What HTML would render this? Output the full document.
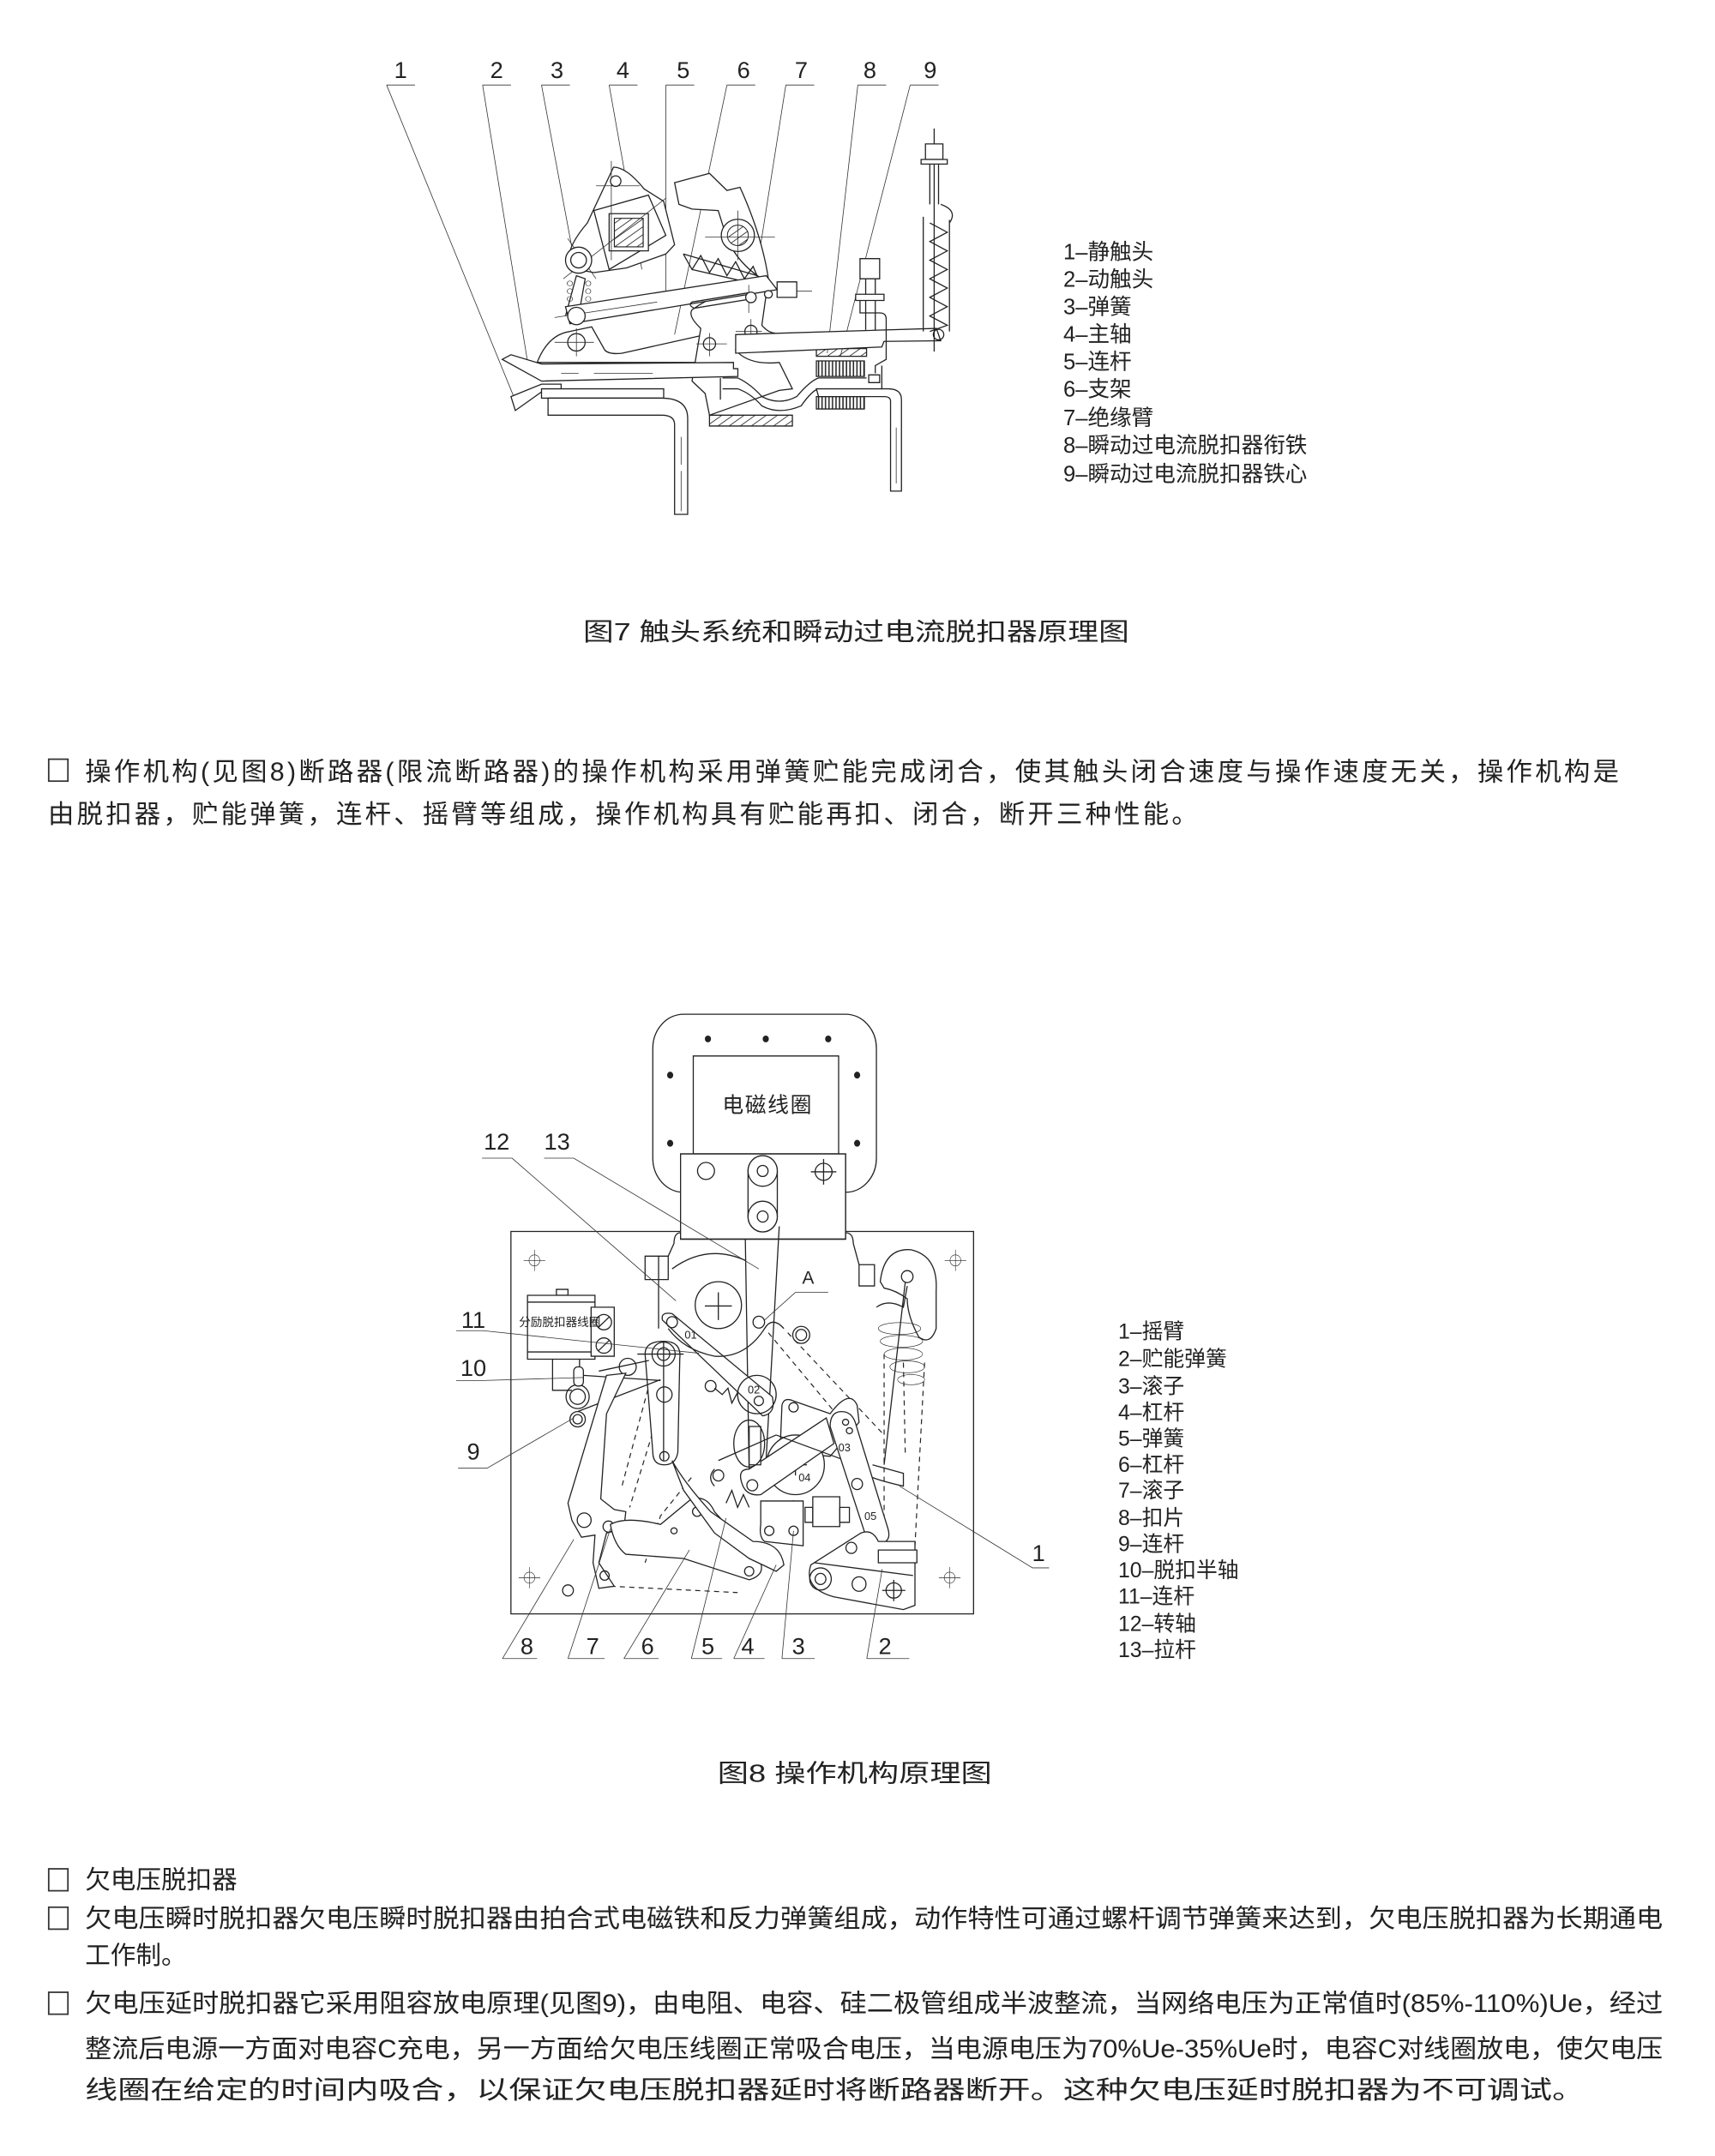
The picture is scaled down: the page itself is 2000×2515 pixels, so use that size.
<!DOCTYPE html>
<html><head><meta charset="utf-8"><style>
html,body{margin:0;padding:0;background:#fff}
svg{display:block}
text{font-family:"Liberation Sans","Noto Sans CJK SC",sans-serif;fill:#222}
.ln{fill:none;stroke:#222;stroke-width:1.3;vector-effect:non-scaling-stroke}
.th{fill:none;stroke:#333;stroke-width:0.8;vector-effect:non-scaling-stroke}
.wf{fill:#fff;stroke:#222;stroke-width:1.3;vector-effect:non-scaling-stroke}
.ds{fill:none;stroke:#222;stroke-width:1.2;stroke-dasharray:6 5;vector-effect:non-scaling-stroke}
.dot{fill:#222}
</style></head><body>
<svg width="2000" height="2515" viewBox="0 0 1250 1571.875" xmlns="http://www.w3.org/2000/svg">
<defs>
<pattern id="hat" width="18" height="18" patternUnits="userSpaceOnUse" patternTransform="rotate(45)"><line x1="0" y1="0" x2="0" y2="18" stroke="#222" stroke-width="4"/></pattern>
<pattern id="vl" width="8" height="10" patternUnits="userSpaceOnUse"><line x1="2" y1="0" x2="2" y2="10" stroke="#222" stroke-width="3"/></pattern>
</defs>

<!-- ================= FIG 7 ================= -->
<g font-size="17">
<text x="292" y="57" text-anchor="middle">1</text>
<text x="362" y="57" text-anchor="middle">2</text>
<text x="406" y="57" text-anchor="middle">3</text>
<text x="454" y="57" text-anchor="middle">4</text>
<text x="498" y="57" text-anchor="middle">5</text>
<text x="542" y="57" text-anchor="middle">6</text>
<text x="584" y="57" text-anchor="middle">7</text>
<text x="634" y="57" text-anchor="middle">8</text>
<text x="678" y="57" text-anchor="middle">9</text>
</g>
<g transform="translate(250,26.97) scale(0.318,0.226)">
 <!-- leaders -->
 <path class="th" d="M100,155H165 M100,155L400,1190 M320,155H385 M320,155L425,1065 M455,155H520 M455,155L530,720 M610,155H675 M610,155L685,750 M740,155H805 M740,155L740,865 M880,155H945 M880,155L760,960 M1015,155H1080 M1015,155L950,735 M1180,155H1245 M1180,155L1110,1020 M1300,155H1365 M1300,155L1140,1030"/>
 <!-- support 6 -->
 <path class="wf" d="M445,1050 Q470,960 520,950 L570,935 L600,1010 Q610,1025 640,1020 L895,940 L895,1050 Z"/>
 <!-- insulating arm 7 -->
 <path class="wf" d="M760,470 L800,455 L840,440 L880,495 L910,485 Q960,640 975,780 L960,930 Q975,955 990,955 L900,1010 Q930,1060 1000,1050 L1030,1135 L1000,1140 L840,1220 L830,1150 L800,1110 L820,940 Q790,900 800,880 Q860,820 960,780 Q905,730 880,650 L860,560 L800,555 L770,540 Z"/>
 <!-- crank/shaft 4 -->
 <path class="wf" d="M620,420 Q650,420 690,490 L735,530 L760,670 L740,700 L650,745 L575,760 L520,745 Q505,690 560,600 Z"/>
 <path class="wf" d="M575,560 L700,510 L740,640 L610,750 Z"/>
 <rect class="wf" x="610" y="570" width="90" height="120"/>
 <rect x="622" y="585" width="66" height="92" fill="url(#hat)" stroke="#222" stroke-width="1.2" vector-effect="non-scaling-stroke"/>
 <path class="th" d="M580,480H680 M615,400V720 M505,780L740,520 M515,650L580,780"/>
 <ellipse class="wf" cx="540" cy="720" rx="30" ry="42"/><ellipse class="wf" cx="540" cy="720" rx="18" ry="25"/>
 <ellipse class="wf" cx="625" cy="465" rx="12" ry="17"/>
 <!-- spring 3 -->
 <g class="ln"><ellipse cx="520" cy="795" rx="6" ry="8"/><ellipse cx="520" cy="820" rx="6" ry="8"/><ellipse cx="520" cy="845" rx="6" ry="8"/><ellipse cx="562" cy="795" rx="6" ry="8"/><ellipse cx="562" cy="820" rx="6" ry="8"/><ellipse cx="562" cy="845" rx="6" ry="8"/></g>
 <path class="ln" d="M510,900 L535,770 L555,780 L540,900"/>
 <!-- spring 7 -->
 <path class="ln" d="M780,700 L800,750 L820,705 L840,760 L860,715 L880,770 L900,725 L920,780 L940,740 L955,790"/>
 <path class="ln" d="M780,700 L950,770 M800,750 L955,800"/>
 <ellipse class="wf" cx="905" cy="640" rx="38" ry="52"/><ellipse cx="905" cy="640" rx="24" ry="33" fill="url(#hat)" stroke="#222" vector-effect="non-scaling-stroke"/>
 <path class="th" d="M830,645H990 M905,560V720"/>
 <!-- bar 5 -->
 <path class="wf" d="M510,870 L970,770 L995,815 L520,925 Z"/>
 <path class="ln" d="M800,855 L930,825 Q945,835 935,845 L805,875 Q790,865 800,855 Z"/>
 <path class="th" d="M485,905L720,855 M930,800V890 M995,820H1075"/>
 <rect class="wf" x="995" y="790" width="45" height="50"/>
 <ellipse class="wf" cx="935" cy="840" rx="12" ry="17"/>
 <ellipse class="wf" cx="975" cy="830" rx="9" ry="12"/>
 <ellipse class="wf" cx="535" cy="900" rx="20" ry="28"/><ellipse class="wf" cx="535" cy="985" rx="20" ry="28"/>
 <path class="th" d="M485,985H575 M535,940V1030 M810,990H880 M840,955V1030 M900,950H960 M935,910V1000"/>
 <ellipse class="ln" cx="840" cy="990" rx="14" ry="20"/><ellipse class="ln" cx="935" cy="950" rx="14" ry="20"/>
 <!-- contacts -->
 <path class="wf" d="M365,1040 L385,1025 L455,1055 L895,1050 L895,1070 L905,1070 L905,1095 L455,1110 Z"/>
 <path class="wf" d="M385,1160 L455,1120 L500,1120 L500,1135 L460,1140 L395,1205 Z"/>
 <path class="th" d="M500,1085H540 M575,1085H710 M515,1150H690"/>
 <rect class="wf" x="455" y="1135" width="280" height="30"/>
 <path class="wf" d="M470,1165 L730,1165 Q790,1165 790,1230 L790,1540 L760,1540 L760,1250 Q760,1220 730,1220 L470,1220 Z"/>
 <path class="th" d="M775,1290V1380 M775,1400V1530"/>
 <path class="ln" d="M870,1100 L905,1100 Q935,1120 960,1160 Q1000,1190 1040,1160 Q1070,1110 1090,1100 L1200,1100 M870,1135 L905,1135 Q935,1150 960,1190 Q1000,1220 1050,1190 Q1075,1140 1090,1135 M865,1100V1170 M1205,1090H1230V1115H1205Z M1235,1060V1140"/>
 <rect x="840" y="1220" width="190" height="35" fill="url(#hat)" stroke="#222" stroke-width="1.3" vector-effect="non-scaling-stroke"/>
 <rect x="1085" y="1005" width="115" height="25" fill="url(#hat)" stroke="#222" stroke-width="1.3" vector-effect="non-scaling-stroke"/>
 <rect x="1085" y="1045" width="110" height="50" fill="url(#vl)" stroke="#222" stroke-width="1.3" vector-effect="non-scaling-stroke"/>
 <rect x="1085" y="1160" width="110" height="40" fill="url(#vl)" stroke="#222" stroke-width="1.3" vector-effect="non-scaling-stroke"/>
 <path class="wf" d="M1085,1135 L1250,1135 Q1280,1135 1280,1170 L1280,1465 L1255,1465 L1255,1175 Q1255,1160 1240,1160 L1090,1160 Z"/>
 <path class="th" d="M1268,1260V1440"/>
 <!-- arm 8 -->
 <path class="wf" d="M900,960 L1360,940 L1370,980 L1240,982 L1235,1000 L900,1020 Z"/>
 <!-- bolt -->
 <path class="wf" d="M1185,715H1230V780H1185Z M1198,780V945 M1220,780V945"/>
 <rect class="wf" x="1175" y="830" width="65" height="20"/>
 <path class="ln" d="M1185,850V890H1230Q1245,890 1245,910V1040L1220,1060V1085"/>
 <!-- right spring rod -->
 <path class="ln" d="M1355,295V1015 M1345,410V540 M1365,410V540 M1330,580V950 M1390,590V950 M1370,540 Q1410,560 1390,600"/>
 <rect class="wf" x="1335" y="345" width="40" height="50"/>
 <rect class="wf" x="1325" y="395" width="60" height="15"/>
 <path class="ln" d="M1345,600 L1385,630 L1345,660 L1385,690 L1345,720 L1385,750 L1345,780 L1385,810 L1345,840 L1385,870 L1345,900 L1385,930 L1345,950"/>
 <ellipse class="ln" cx="1365" cy="960" rx="12" ry="17"/>
</g>
<g font-size="16">
<text x="775" y="189">1–静触头</text>
<text x="775" y="209">2–动触头</text>
<text x="775" y="229">3–弹簧</text>
<text x="775" y="249">4–主轴</text>
<text x="775" y="269">5–连杆</text>
<text x="775" y="289">6–支架</text>
<text x="775" y="310">7–绝缘臂</text>
<text x="775" y="330">8–瞬动过电流脱扣器衔铁</text>
<text x="775" y="351">9–瞬动过电流脱扣器铁心</text>
</g>
<text x="425" y="467" font-size="18" textLength="398" lengthAdjust="spacingAndGlyphs">图7  触头系统和瞬动过电流脱扣器原理图</text>

<!-- paragraph 1 -->
<rect x="35.5" y="553.5" width="14" height="16" fill="none" stroke="#333" stroke-width="1.1"/>
<text x="62" y="569" font-size="19" textLength="1118" lengthAdjust="spacing">操作机构(见图8)断路器(限流断路器)的操作机构采用弹簧贮能完成闭合，使其触头闭合速度与操作速度无关，操作机构是</text>
<text x="35" y="600" font-size="19" textLength="838" lengthAdjust="spacing">由脱扣器，贮能弹簧，连杆、摇臂等组成，操作机构具有贮能再扣、闭合，断开三种性能。</text>

<!-- ================= FIG 8 ================= -->
<g transform="translate(324.06,723.3) scale(0.281,0.3105)">
 <rect class="wf" x="540" y="52" width="580" height="418" rx="80"/>
 <rect class="wf" x="645" y="150" width="377" height="230"/>
 <g class="dot"><circle cx="683" cy="110" r="8"/><circle cx="833" cy="110" r="8"/><circle cx="995" cy="110" r="8"/><circle cx="585" cy="195" r="8"/><circle cx="1070" cy="195" r="8"/><circle cx="585" cy="355" r="8"/><circle cx="1070" cy="355" r="8"/></g>
 <rect class="wf" x="612" y="380" width="428" height="200"/>
 <rect class="ln" x="172" y="562" width="1200" height="898"/>
 <rect class="wf" x="612" y="380" width="428" height="200"/>
 <path class="ln" d="M612,580H1040"/>
 <ellipse class="ln" cx="678" cy="420" rx="22" ry="20"/>
 <path class="wf" d="M787,420 V527 A38,36 0 0 0 863,527 V420 A38,36 0 0 0 787,420Z"/>
 <ellipse class="wf" cx="825" cy="420" rx="38" ry="36"/><ellipse class="ln" cx="825" cy="420" rx="14" ry="13"/>
 <ellipse class="wf" cx="825" cy="527" rx="38" ry="36"/><ellipse class="ln" cx="825" cy="527" rx="14" ry="13"/>
 <ellipse class="ln" cx="983" cy="422" rx="22" ry="20"/><path class="ln" d="M950,422H1016 M983,392V452"/>
 <!-- crosshairs -->
 <g class="ln">
 <ellipse cx="233" cy="630" rx="14" ry="13"/><path d="M205,630H261 M233,605V655"/>
 <ellipse cx="1325" cy="630" rx="14" ry="13"/><path d="M1297,630H1353 M1325,605V655"/>
 <ellipse cx="220" cy="1375" rx="14" ry="13"/><path d="M192,1375H248 M220,1350V1400"/>
 <ellipse cx="1310" cy="1375" rx="14" ry="13"/><path d="M1282,1375H1338 M1310,1350V1400"/>
 </g>
 <!-- brackets -->
 <path class="ln" d="M612,565 Q595,565 595,590 L580,620 H520 V675 H580 V620 M1040,565 Q1060,565 1060,590 L1075,640 H1115 V690 H1075 V640"/>
 <!-- shunt coil -->
 <rect class="wf" x="290" y="698" width="30" height="14"/>
 <rect class="wf" x="215" y="712" width="175" height="150"/>
 <path class="ln" d="M215,728H390 M215,845H390"/>
 <rect class="wf" x="380" y="740" width="60" height="115"/>
 <ellipse class="ln" cx="413" cy="775" rx="20" ry="18"/><ellipse class="ln" cx="413" cy="830" rx="20" ry="18"/>
 <path class="ln" d="M398,788L428,762 M398,843L428,817"/>
 <path class="ln" d="M280,862V935H330 M350,862V900"/>
 <ellipse class="ln" cx="345" cy="950" rx="30" ry="28"/><ellipse class="ln" cx="345" cy="950" rx="20" ry="18"/>
 <ellipse class="ln" cx="345" cy="1003" rx="20" ry="18"/><ellipse class="ln" cx="345" cy="1003" rx="12" ry="11"/>
 <rect class="wf" x="335" y="880" width="25" height="45" rx="10"/>
 <!-- rods -->
 <path class="ln" d="M780,580 L790,1130 M868,550 L830,1160 M555,620 V790"/>
 <!-- lever 12 -->
 <path class="wf" d="M565,770 Q560,750 590,755 L850,950 Q860,990 825,995 Z"/>
 <ellipse class="ln" cx="590" cy="775" rx="14" ry="13"/><ellipse class="ln" cx="815" cy="960" rx="12" ry="11"/>
 <path class="ln" d="M590,650 Q680,590 780,630 M580,790 Q620,840 700,855 Q780,860 830,790 Q850,760 880,790"/>
 <ellipse class="wf" cx="710" cy="735" rx="60" ry="55"/><path class="ln" d="M675,737H745 M710,705V770"/>
 <ellipse class="ln" cx="815" cy="775" rx="15" ry="14"/>
 <ellipse class="ln" cx="925" cy="805" rx="22" ry="20"/><ellipse class="ln" cx="925" cy="805" rx="14" ry="13"/>
 <ellipse class="ln" cx="810" cy="945" rx="50" ry="45"/>
 <!-- dashed -->
 <path class="ds" d="M840,800 L1080,1060 M890,800 L1140,1040 M540,890 L460,1160 M575,930 L480,1210 M640,1140 L560,1230 L520,1340 M430,1395 L760,1410 M1140,850 L1140,1230 M1245,870 L1220,1300 M1190,870 L1195,1090"/>
 <!-- link 11/9 -->
 <path class="wf" d="M520,850 Q520,820 568,820 Q615,820 610,860 L605,1080 Q600,1110 570,1110 Q540,1110 540,1080 Z"/>
 <ellipse class="ln" cx="568" cy="850" rx="30" ry="28"/><ellipse class="ln" cx="568" cy="850" rx="16" ry="15"/>
 <ellipse class="ln" cx="570" cy="945" rx="20" ry="18"/><ellipse class="ln" cx="570" cy="1090" rx="12" ry="11"/>
 <path class="ln" d="M500,850H620 M568,820V1100 M360,900 L560,912 M345,985 L560,910 M400,890 L530,865"/>
 <ellipse class="ln" cx="475" cy="880" rx="22" ry="20"/>
 <!-- big left hook 8 -->
 <path class="wf" d="M420,900 L470,895 L420,990 L405,1190 L440,1215 L470,1220 L465,1260 L420,1270 L400,1340 L440,1395 L400,1400 L385,1340 L390,1275 L355,1280 L330,1240 L320,1200 Z"/>
 <ellipse class="ln" cx="362" cy="1240" rx="18" ry="17"/>
 <ellipse class="ln" cx="425" cy="1255" rx="14" ry="13"/><ellipse class="ln" cx="415" cy="1370" rx="12" ry="11"/>
 <ellipse class="ln" cx="320" cy="1405" rx="14" ry="13"/>
 <!-- lever 6 -->
 <path class="wf" d="M430,1250 Q470,1230 560,1250 L640,1190 Q680,1180 700,1220 L820,1340 Q830,1370 790,1380 L620,1330 L470,1320 Q440,1300 430,1250 Z"/>
 <ellipse class="ln" cx="655" cy="1220" rx="12" ry="11"/><ellipse class="ln" cx="790" cy="1360" rx="12" ry="11"/>
 <ellipse class="ln" cx="595" cy="1265" rx="8" ry="7"/>
 <!-- lever 4 -->
 <path class="wf" d="M590,1100 Q620,1150 690,1220 L800,1290 Q870,1290 880,1345 L860,1360 L790,1330 L700,1270 L620,1170 L590,1100 Z"/>
 <!-- centre cam -->
 <path class="wf" d="M875,970 Q880,950 905,960 L1000,990 Q1050,930 1070,970 L1075,1010 L1000,1090 L870,1080 Z"/>
 <ellipse class="ln" cx="905" cy="975" rx="12" ry="11"/>
 <ellipse class="wf" cx="910" cy="1110" rx="75" ry="70"/><path class="ln" d="M880,1110H940 M910,1085V1135"/>
 <path class="wf" d="M770,1150 Q760,1120 790,1120 L990,1000 L1010,1060 L820,1180 Q780,1185 770,1150 Z"/>
 <ellipse class="ln" cx="798" cy="1158" rx="14" ry="13"/>
 <rect class="wf" x="790" y="1020" width="30" height="90"/>
 <ellipse class="ln" cx="790" cy="1060" rx="40" ry="55"/>
 <path class="ln" d="M710,1100 L860,1040 M860,1040 L1100,1120"/>
 <ellipse class="ln" cx="710" cy="1135" rx="14" ry="13"/><path class="ln" d="M700,1120 Q680,1140 700,1160"/>
 <ellipse class="ln" cx="690" cy="925" rx="14" ry="13"/>
 <path class="ln" d="M700,930 L720,945 L735,930 L745,965 L760,940 M730,1200 L745,1170 L760,1210 L775,1180 L790,1210 M880,1200 L890,1215 L905,1195 L915,1215 L925,1195"/>
 <!-- part 3 -->
 <path class="wf" d="M820,1195 L930,1195 L930,1300 L830,1290 Q815,1280 820,1250 Z"/>
 <ellipse class="ln" cx="842" cy="1265" rx="12" ry="11"/><ellipse class="ln" cx="905" cy="1265" rx="12" ry="11"/>
 <rect class="wf" x="935" y="1210" width="20" height="35"/><rect class="wf" x="955" y="1185" width="70" height="70"/><rect class="wf" x="1025" y="1210" width="25" height="35"/>
 <!-- right link 05 -->
 <path class="wf" d="M1000,1020 Q1000,985 1030,985 Q1055,985 1065,1010 L1150,1260 Q1160,1290 1130,1295 Q1100,1295 1090,1270 Z"/>
 <ellipse class="ln" cx="1040" cy="1010" rx="8" ry="7"/><ellipse class="ln" cx="1050" cy="1030" rx="8" ry="7"/><ellipse class="ln" cx="1070" cy="1155" rx="14" ry="13"/>
 <!-- bottom right lever 2 -->
 <path class="wf" d="M950,1345 L1080,1270 Q1110,1260 1125,1290 L1220,1290 L1220,1440 L1190,1450 L1010,1420 Q930,1400 950,1345 Z"/>
 <ellipse class="ln" cx="975" cy="1378" rx="28" ry="26"/><ellipse class="ln" cx="975" cy="1378" rx="14" ry="13"/>
 <ellipse class="ln" cx="1055" cy="1305" rx="14" ry="13"/><ellipse class="ln" cx="1075" cy="1390" rx="18" ry="17"/>
 <ellipse class="ln" cx="1165" cy="1405" rx="20" ry="18"/><path class="ln" d="M1135,1405H1195 M1165,1380V1430"/>
 <rect class="wf" x="1125" y="1310" width="100" height="30"/>
 <path class="ln" d="M960,1340 L1215,1370"/>
 <!-- right hook + spring -->
 <path class="wf" d="M1130,680 Q1140,600 1210,605 Q1280,620 1275,700 L1275,790 Q1260,830 1230,810 Q1200,760 1200,720 Q1170,700 1140,695 Z"/>
 <ellipse class="ln" cx="1200" cy="668" rx="15" ry="14"/>
 <g class="ln"><ellipse cx="1180" cy="790" rx="55" ry="14"/><ellipse cx="1185" cy="820" rx="55" ry="14"/><ellipse cx="1190" cy="850" rx="50" ry="14"/><ellipse cx="1200" cy="880" rx="45" ry="14"/><ellipse cx="1210" cy="910" rx="35" ry="12"/></g>
 <path class="ln" d="M1120,740 Q1150,720 1190,740 L1200,690 M1195,680 L1140,1110 M1110,1110 Q1150,1120 1190,1130 L1190,1160 Q1140,1150 1110,1140"/>
 <!-- leaders -->
 <path class="th" d="M97,390H175L600,725 M258,390H335L815,650 M30,795H100L660,848 M30,912H100L360,905 M35,1118H110L335,1000 M1568,1352H1525L1180,1160 M150,1565H240 M150,1565L335,1285 M320,1565H415 M320,1565L430,1260 M465,1565H555 M465,1565L635,1310 M640,1565H720 M640,1565L730,1235 M750,1565H830 M750,1565L860,1345 M875,1565H960 M875,1565L905,1265 M1095,1565H1205 M1095,1565L1135,1355 M910,705H995 M910,705L830,770"/>
</g>
<text x="559.5" y="811" font-size="15.5" text-anchor="middle" letter-spacing="1">电磁线圈</text>
<text x="408" y="967" font-size="8.5" text-anchor="middle">分励脱扣器线圈</text>
<g font-size="8" fill="#444"><text x="499" y="976">01</text><text x="545" y="1016">02</text><text x="611" y="1058">03</text><text x="582" y="1080">04</text><text x="630" y="1108">05</text></g>
<g font-size="17" text-anchor="middle">
<text x="362" y="838">12</text><text x="406" y="838">13</text>
<text x="345" y="968">11</text><text x="345" y="1003">10</text><text x="345" y="1064">9</text>
<text x="757" y="1138">1</text>
<text x="384" y="1206">8</text><text x="432" y="1206">7</text><text x="472" y="1206">6</text><text x="516" y="1206">5</text><text x="545" y="1206">4</text><text x="582" y="1206">3</text><text x="645" y="1206">2</text>
<text x="589" y="936" font-size="13">A</text>
</g>
<g font-size="15.5">
<text x="815" y="976">1–摇臂</text>
<text x="815" y="996">2–贮能弹簧</text>
<text x="815" y="1016">3–滚子</text>
<text x="815" y="1035">4–杠杆</text>
<text x="815" y="1054">5–弹簧</text>
<text x="815" y="1073">6–杠杆</text>
<text x="815" y="1092">7–滚子</text>
<text x="815" y="1112">8–扣片</text>
<text x="815" y="1131">9–连杆</text>
<text x="815" y="1150">10–脱扣半轴</text>
<text x="815" y="1169">11–连杆</text>
<text x="815" y="1189">12–转轴</text>
<text x="815" y="1208">13–拉杆</text>
</g>
<text x="523" y="1299" font-size="18" textLength="200" lengthAdjust="spacingAndGlyphs">图8  操作机构原理图</text>

<!-- bottom paragraphs -->
<g fill="none" stroke="#333" stroke-width="1.1">
<rect x="35.5" y="1362.5" width="14" height="16"/>
<rect x="35.5" y="1390.5" width="14" height="16"/>
<rect x="35.5" y="1452.5" width="14" height="16"/>
</g>
<g font-size="18.5">
<text x="62" y="1377">欠电压脱扣器</text>
<text x="62" y="1405" textLength="1150" lengthAdjust="spacingAndGlyphs">欠电压瞬时脱扣器欠电压瞬时脱扣器由拍合式电磁铁和反力弹簧组成，动作特性可通过螺杆调节弹簧来达到，欠电压脱扣器为长期通电</text>
<text x="62" y="1432">工作制。</text>
<text x="62" y="1467" textLength="1150" lengthAdjust="spacingAndGlyphs">欠电压延时脱扣器它采用阻容放电原理(见图9)，由电阻、电容、硅二极管组成半波整流，当网络电压为正常值时(85%-110%)Ue，经过</text>
<text x="62" y="1500" textLength="1150" lengthAdjust="spacingAndGlyphs">整流后电源一方面对电容C充电，另一方面给欠电压线圈正常吸合电压，当电源电压为70%Ue-35%Ue时，电容C对线圈放电，使欠电压</text>
<text x="62" y="1530" textLength="1093" lengthAdjust="spacingAndGlyphs">线圈在给定的时间内吸合，以保证欠电压脱扣器延时将断路器断开。这种欠电压延时脱扣器为不可调试。</text>
</g>
</svg>
</body></html>
